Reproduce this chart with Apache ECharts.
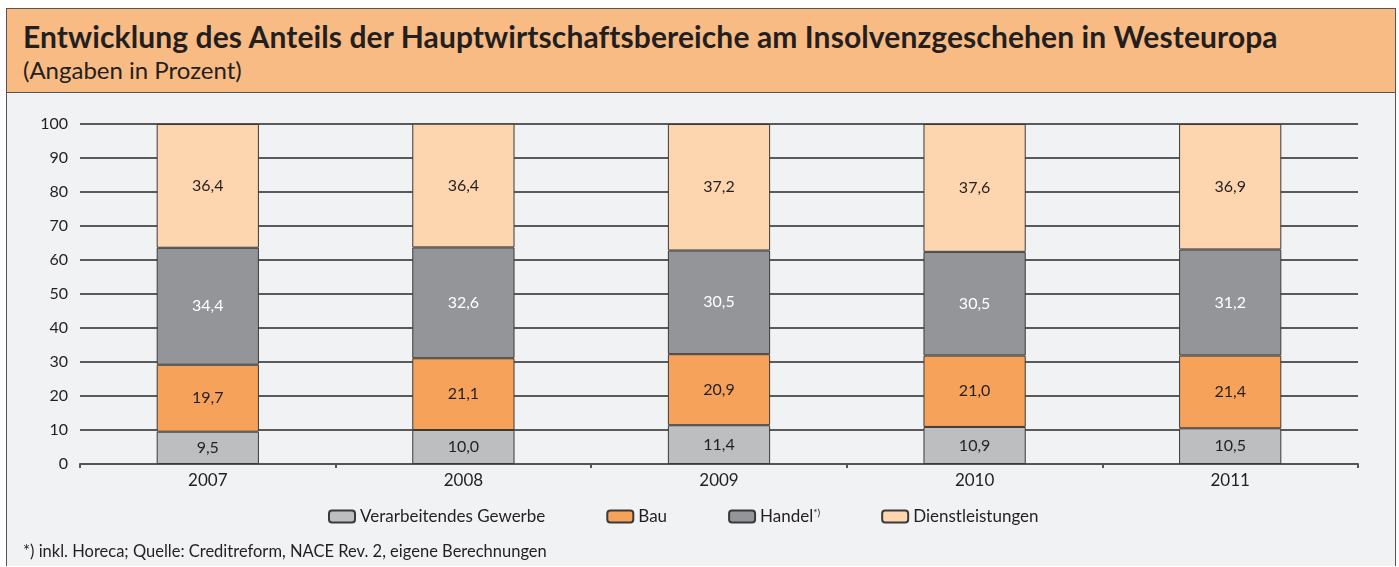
<!DOCTYPE html>
<html>
<head>
<meta charset="utf-8">
<script src="https://cdn.jsdelivr.net/npm/echarts@6/dist/echarts.min.js"></script>
<style>
  html, body { margin: 0; padding: 0; background: #fff; }
  #frame {
    position: absolute; left: 6px; top: 8px; width: 1388px; height: 557px;
    border: 1px solid #555; border-bottom: none; background: #f1f2f4;
  }
  #head {
    position: absolute; left: 0; top: 0; right: 0; height: 83px;
    background: #f9bb84; border-bottom: 1px solid #555;
    font-family: Lato, "Open Sans", sans-serif; color: #231f20;
  }
  #head .t { position: absolute; left: 16px; top: 9px; font-size: 30px; font-weight: bold; letter-spacing: 0.1px; }
  #head .s { position: absolute; left: 16px; top: 46px; font-size: 24px; }
  #chart { position: absolute; left: 0; top: 84px; width: 1388px; height: 473px; }
</style>
</head>
<body>
<div id="frame">
  <div id="head">
    <div class="t">Entwicklung des Anteils der Hauptwirtschaftsbereiche am Insolvenzgeschehen in Westeuropa</div>
    <div class="s">(Angaben in Prozent)</div>
  </div>
  <div id="chart"></div>
</div>
<script>
// Categories and values (percent)
const years = ['2007', '2008', '2009', '2010', '2011'];
const verarbeitend = [9.5, 10.0, 11.4, 10.9, 10.5];
const bau = [19.7, 21.1, 20.9, 21.0, 21.4];
const handel = [34.4, 32.6, 30.5, 30.5, 31.2];
const dienst = [36.4, 36.4, 37.2, 37.6, 36.9];

const fontFamily = 'Lato, "Open Sans", sans-serif';

function makeSeries(name, data, color, labelColor) {
    return {
        name: name,
        type: 'bar',
        stack: 'total',
        barWidth: '40%',
        data: data,
        itemStyle: { color: color, borderColor: '#3a3a3a', borderWidth: 1 },
        label: {
            show: true,
            position: 'inside',
            color: labelColor,
            fontFamily: fontFamily,
            fontSize: 16,
            formatter: (p) => p.value.toFixed(1).replace('.', ',')
        }
    };
}

const chart = echarts.init(document.getElementById('chart'));
chart.setOption({
    animation: false,
    textStyle: { fontFamily: fontFamily },
    grid: { left: 73, right: 37, top: 31, bottom: 102 },
    xAxis: {
        type: 'category',
        data: years,
        axisLine: { lineStyle: { color: '#555', width: 2 } },
        axisTick: { show: true, length: 4, lineStyle: { color: '#555', width: 2 } },
        axisLabel: { color: '#231f20', fontSize: 17, margin: 8 }
    },
    yAxis: {
        type: 'value',
        min: 0,
        max: 100,
        interval: 10,
        axisLine: { show: false },
        axisTick: { show: false },
        axisLabel: { color: '#231f20', fontSize: 16, margin: 12 },
        splitLine: { lineStyle: { color: '#5a5a5a', width: 2 } }
    },
    legend: {
        bottom: 36,
        left: 316,
        itemWidth: 26,
        itemHeight: 12,
        itemGap: 61,
        textStyle: {
            color: '#231f20',
            fontSize: 17,
            rich: { sup: { fontSize: 10, verticalAlign: 'top', padding: [0, 0, 6, 0], color: '#231f20' } }
        },
        formatter: (name) => name === 'Handel' ? 'Handel{sup|*)}' : name,
        data: ['Verarbeitendes Gewerbe', 'Bau', 'Handel', 'Dienstleistungen']
    },
    graphic: [{
        type: 'text',
        left: 16,
        bottom: 6,
        style: {
            text: '*) inkl. Horeca; Quelle: Creditreform, NACE Rev. 2, eigene Berechnungen',
            fill: '#231f20',
            font: '16.5px ' + fontFamily
        }
    }],
    series: [
        makeSeries('Verarbeitendes Gewerbe', verarbeitend, '#bdbec0', '#231f20'),
        makeSeries('Bau', bau, '#f6a25a', '#231f20'),
        makeSeries('Handel', handel, '#949598', '#ffffff'),
        makeSeries('Dienstleistungen', dienst, '#fdd5af', '#231f20')
    ]
});
</script>
</body>
</html>
